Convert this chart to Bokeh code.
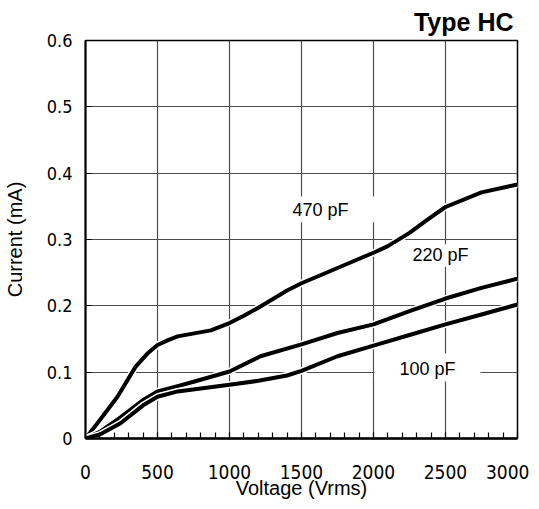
from bokeh.plotting import figure
from bokeh.models import FixedTicker, Label, Range1d
from bokeh.embed import file_html
from bokeh.resources import INLINE

# ---- data ----
v470 = [0, 100, 222, 347, 430, 500, 570, 640, 870, 1000, 1100, 1215, 1400, 1500, 1750, 2000, 2100, 2250, 2375, 2500, 2750, 3000]
i470 = [0, 0.028, 0.063, 0.108, 0.128, 0.141, 0.148, 0.154, 0.163, 0.174, 0.185, 0.199, 0.223, 0.234, 0.257, 0.28, 0.29, 0.31, 0.33, 0.349, 0.371, 0.383]

v220 = [0, 100, 243, 400, 500, 640, 757, 1000, 1215, 1500, 1750, 2000, 2250, 2500, 2750, 3000]
i220 = [0, 0.01, 0.032, 0.058, 0.071, 0.079, 0.086, 0.101, 0.124, 0.142, 0.159, 0.172, 0.192, 0.211, 0.227, 0.241]

v100 = [0, 100, 243, 400, 500, 640, 1000, 1200, 1400, 1500, 1750, 2000, 2250, 2500, 2750, 3000]
i100 = [0, 0.006, 0.023, 0.05, 0.063, 0.071, 0.081, 0.087, 0.095, 0.102, 0.124, 0.14, 0.156, 0.172, 0.187, 0.202]

x_ticks = [0, 500, 1000, 1500, 2000, 2500, 3000]
x_minor = [v for v in range(0, 3001, 100)]
y_ticks = [0, 0.1, 0.2, 0.3, 0.4, 0.5, 0.6]
y_tick_labels = ["0", "0.1", "0.2", "0.3", "0.4", "0.5", "0.6"]

series_labels = ["470 pF", "220 pF", "100 pF"]
title_text = "Type HC"

TICK_FONT = "DejaVu Sans Condensed"
TEXT_FONT = "Liberation Sans"

p = figure(frame_width=432, frame_height=398,
           x_range=Range1d(0, 3000), y_range=Range1d(0, 0.6),
           output_backend="svg", toolbar_location=None,
           min_border_left=85, min_border_top=37,
           min_border_right=12, min_border_bottom=64)
p.background_fill_color = "white"
p.border_fill_color = "white"
p.outline_line_color = "black"
p.outline_line_width = 1.5

p.title.text = title_text
p.title.align = "right"
p.title.text_font = TEXT_FONT
p.title.text_font_size = "25px"
p.title.text_font_style = "bold"
p.title.text_color = "black"
p.title.offset = 4
p.title.standoff = 10

# axes
p.xaxis.ticker = FixedTicker(ticks=x_ticks, minor_ticks=x_minor)
p.yaxis.ticker = FixedTicker(ticks=y_ticks, minor_ticks=[])
p.yaxis.major_label_overrides = {t: l for t, l in zip(y_ticks, y_tick_labels)}
p.xaxis.major_label_overrides = {t: str(t) for t in x_ticks}

for ax in (p.xaxis[0], p.yaxis[0]):
    ax.axis_line_color = "black"
    ax.major_tick_line_color = "black"
    ax.major_tick_out = 0
    ax.major_tick_in = 6
    ax.major_label_text_font = TICK_FONT
    ax.major_label_text_font_size = "18px"
    ax.major_label_text_color = "black"
    ax.axis_label_text_font = TEXT_FONT
    ax.axis_label_text_font_size = "20px"
    ax.axis_label_text_font_style = "normal"
    ax.axis_label_text_color = "black"

p.xaxis.major_label_text_font_size = "19px"
p.xaxis.axis_line_width = 2.5
p.yaxis.axis_line_width = 2
p.xaxis.minor_tick_line_color = "black"
p.xaxis.minor_tick_line_width = 1.2
p.xaxis.minor_tick_in = 6
p.xaxis.minor_tick_out = 0
p.yaxis.minor_tick_line_color = None
p.xaxis.major_label_standoff = 26
p.yaxis.major_label_standoff = 13
p.xaxis.axis_label = "Voltage (Vrms)"
p.yaxis.axis_label = "Current (mA)"
p.xaxis.axis_label_standoff = -5
p.yaxis.axis_label_standoff = 18

p.xgrid.grid_line_color = "#4d4d4d"
p.ygrid.grid_line_color = "#4d4d4d"
p.xgrid.grid_line_width = 1.2
p.ygrid.grid_line_width = 1.2

# curves (white halo under each black line)
for vx, iy in ((v470, i470), (v220, i220), (v100, i100)):
    p.line(vx, iy, line_color="white", line_width=7, line_join="round")
    p.line(vx, iy, line_color="black", line_width=4, line_join="round")

# white label boxes (annotation backgrounds)
boxes = [  # left, right, bottom, top in data units
    (1368, 2014, 0.326, 0.365),
    (2140, 2757, 0.259, 0.293),
    (2007, 2743, 0.086, 0.128),
]
for (l, r, b, t) in boxes:
    p.quad(left=[l], right=[r], bottom=[b], top=[t], fill_color="white", line_color=None)

label_pos = [(1632, 0.345), (2465, 0.277), (2375, 0.1055)]
for (lx, ly), txt in zip(label_pos, series_labels):
    p.add_layout(Label(x=lx, y=ly, text=txt, text_align="center", text_baseline="middle",
                       text_font=TEXT_FONT, text_font_size="18px", text_color="black"))

open("out.html", "w").write(file_html(p, INLINE))
